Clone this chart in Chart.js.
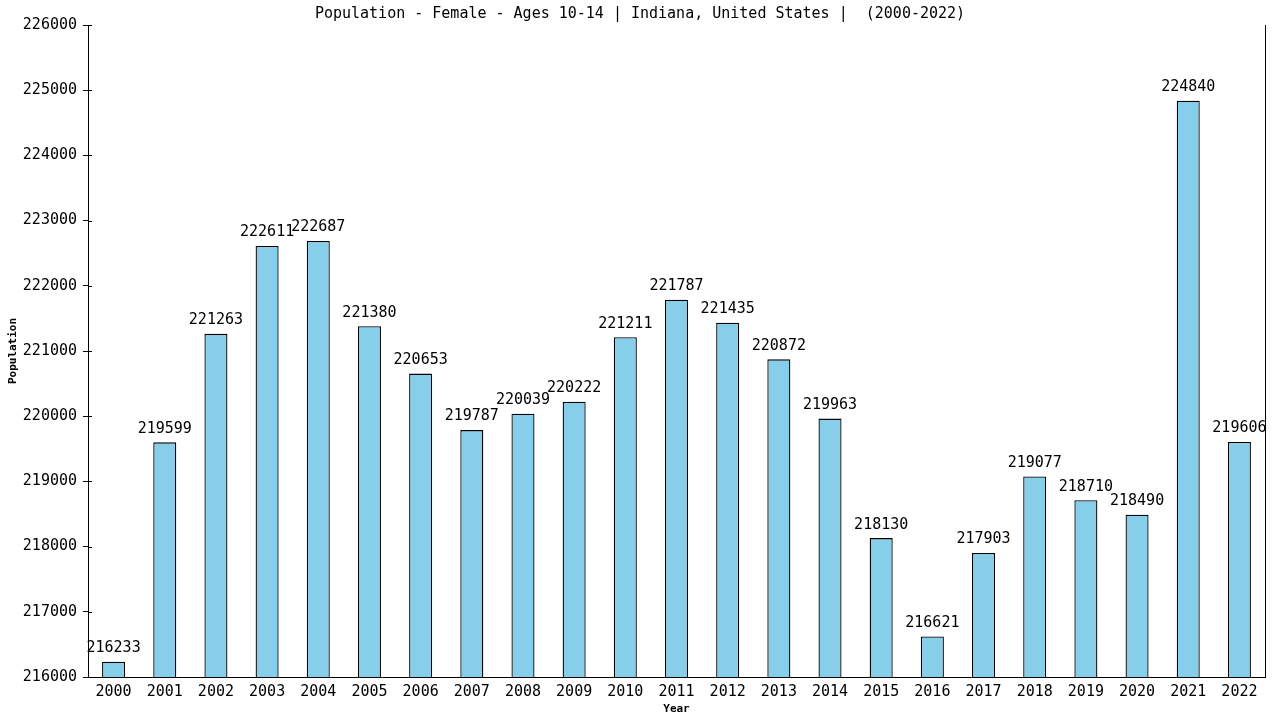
<!DOCTYPE html>
<html lang="en">
<head>
  <meta charset="UTF-8">
  <title>Population - Female - Ages 10-14 | Indiana</title>
  <script src="https://cdn.jsdelivr.net/npm/chart.js"></script>
  <style>
    html, body { margin: 0; padding: 0; background: #fff; }
    #wrap { width: 1280px; height: 720px; }
  </style>
</head>
<body>
  <div id="wrap"><canvas id="chartCanvas" width="1280" height="720"></canvas></div>

  <script>
    const years = ['2000','2001','2002','2003','2004','2005','2006','2007','2008','2009','2010','2011',
                   '2012','2013','2014','2015','2016','2017','2018','2019','2020','2021','2022'];
    const population = [216233, 219599, 221263, 222611, 222687, 221380, 220653, 219787, 220039, 220222, 221211, 221787,
                        221435, 220872, 219963, 218130, 216621, 217903, 219077, 218710, 218490, 224840, 219606];
    const yMin = 216000;
    const yMax = 226000;
    const yStep = 1000;
    const chartTitle = 'Population - Female - Ages 10-14 | Indiana, United States |  (2000-2022)';

    const FONT = '"DejaVu Sans Mono", monospace';

    // title, value labels, right border and inner tick marks
    const extras = {
      id: 'extras',
      afterDraw(chart) {
        const ctx = chart.ctx;
        const area = chart.chartArea;
        const yScale = chart.scales.y;
        ctx.save();
        ctx.fillStyle = '#000';
        ctx.font = '15px ' + FONT;
        ctx.textAlign = 'center';
        ctx.textBaseline = 'middle';
        ctx.fillText(chartTitle, 640, 14);

        ctx.textBaseline = 'bottom';
        const meta = chart.getDatasetMeta(0);
        meta.data.forEach((bar, i) => {
          ctx.fillText(String(population[i]), bar.x, bar.y - 6);
        });

        ctx.strokeStyle = '#000';
        ctx.lineWidth = 1;
        ctx.beginPath();
        ctx.moveTo(Math.round(area.right) + 0.5, area.top);
        ctx.lineTo(Math.round(area.right) + 0.5, area.bottom);
        yScale.ticks.forEach(t => {
          const py = Math.round(yScale.getPixelForValue(t.value)) + 0.5;
          ctx.moveTo(area.left, py);
          ctx.lineTo(area.left + 4, py);
        });
        ctx.stroke();
        ctx.restore();
      }
    };

    const ctx = document.getElementById('chartCanvas').getContext('2d');
    new Chart(ctx, {
      type: 'bar',
      data: {
        labels: years,
        datasets: [{
          data: population,
          backgroundColor: '#87ceeb',
          borderColor: '#000',
          borderWidth: 1.3,
          barPercentage: 0.9,
          categoryPercentage: 0.5
        }]
      },
      options: {
        responsive: false,
        animation: false,
        devicePixelRatio: 1,
        layout: { padding: { top: 25, right: 15, left: 0, bottom: 0 } },
        plugins: {
          legend: { display: false },
          title: { display: false },
          tooltip: { enabled: false }
        },
        scales: {
          x: {
            grid: { display: true, drawOnChartArea: false, drawTicks: false },
            border: { display: true, color: '#000', width: 1 },
            ticks: { color: '#000', font: { family: FONT, size: 15 }, padding: 6, maxRotation: 0, autoSkip: false },
            title: { display: true, text: 'Year', color: '#000', font: { family: FONT, size: 11, weight: 'bold' }, padding: { top: 2, bottom: 4 } },
            afterFit(scale) { scale.height = 43; }
          },
          y: {
            min: yMin,
            max: yMax,
            grid: { display: true, drawOnChartArea: false, drawTicks: true, tickLength: 5, color: '#000' },
            border: { display: true, color: '#000', width: 1 },
            ticks: { stepSize: yStep, color: '#000', font: { family: FONT, size: 15 }, padding: 6, callback: v => String(v) },
            title: { display: true, text: 'Population', color: '#000', font: { family: FONT, size: 11, weight: 'bold' }, padding: { top: 7, bottom: 0 } },
            afterFit(scale) { scale.width = 88; }
          }
        }
      },
      plugins: [extras]
    });
  </script>
</body>
</html>
